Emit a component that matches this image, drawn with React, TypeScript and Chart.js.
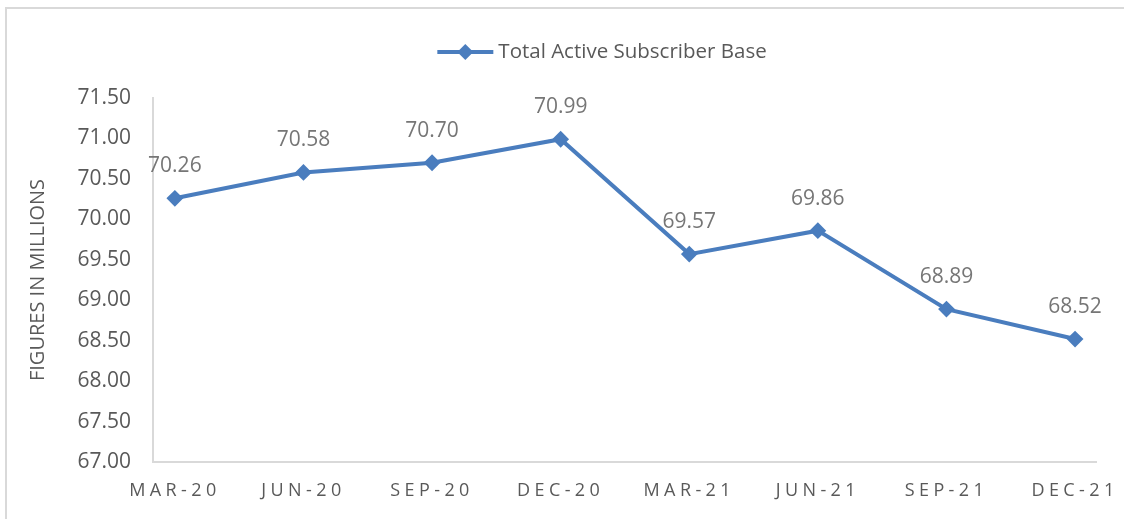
import React, { useEffect, useRef } from "react";
import { Chart, registerables } from "chart.js";

Chart.register(...registerables);

const categories = ["MAR-20", "JUN-20", "SEP-20", "DEC-20", "MAR-21", "JUN-21", "SEP-21", "DEC-21"];
const subscriberBase = [70.26, 70.58, 70.7, 70.99, 69.57, 69.86, 68.89, 68.52];
const seriesLabel = "Total Active Subscriber Base";
const yAxisTitle = "FIGURES IN MILLIONS";
const yMin = 67;
const yMax = 71.5;
const yStep = 0.5;

const FONT = "'Open Sans', 'Noto Sans', sans-serif";
const LINE_COLOR = "#4a7dbe";
const TICK_COLOR = "#595959";
const LABEL_COLOR = "#767676";
const AXIS_COLOR = "#d9d9d9";

const W = 1124;
const H = 519;

const labelsPlugin = {
  id: "customLabels",
  afterDatasetsDraw(chart: any) {
    const ctx = chart.ctx;
    const meta = chart.getDatasetMeta(0);
    const ds = chart.data.datasets[0];
    ctx.save();
    ctx.font = `21px ${FONT}`;
    ctx.fillStyle = LABEL_COLOR;
    ctx.textAlign = "center";
    ctx.textBaseline = "middle";
    meta.data.forEach((pt: any, i: number) => {
      const v = ds.data[i].y;
      ctx.fillText(v.toFixed(2), pt.x, pt.y - 32);
    });
    ctx.restore();
    // letter spacing for the x-axis labels, drawn on the top layer
    ctx.letterSpacing = "4.4px";
  },
  afterDraw(chart: any) {
    const ctx = chart.ctx;
    ctx.letterSpacing = "0px";
    // legend
    ctx.save();
    const text = chart.data.datasets[0].label;
    ctx.font = `20.5px ${FONT}`;
    const tw = ctx.measureText(text).width;
    const markerW = 56;
    const gap = 5;
    const total = markerW + gap + tw;
    const cx = 602;
    const cy = 52;
    const x0 = cx - total / 2;
    ctx.strokeStyle = LINE_COLOR;
    ctx.lineWidth = 4;
    ctx.beginPath();
    ctx.moveTo(x0, cy);
    ctx.lineTo(x0 + markerW, cy);
    ctx.stroke();
    ctx.fillStyle = LINE_COLOR;
    ctx.beginPath();
    const mx = x0 + markerW / 2;
    const r = 8;
    ctx.moveTo(mx, cy - r);
    ctx.lineTo(mx + r, cy);
    ctx.lineTo(mx, cy + r);
    ctx.lineTo(mx - r, cy);
    ctx.closePath();
    ctx.fill();
    ctx.fillStyle = TICK_COLOR;
    ctx.textAlign = "left";
    ctx.textBaseline = "middle";
    ctx.fillText(text, x0 + markerW + gap, cy);
    ctx.restore();
  },
};

export default function App() {
  const ref = useRef<HTMLCanvasElement>(null);

  useEffect(() => {
    if (!ref.current) return;
    const chart = new Chart(ref.current, {
      type: "line",
      data: {
        datasets: [
          {
            label: seriesLabel,
            data: subscriberBase.map((v, i) => ({ x: i, y: v })),
            borderColor: LINE_COLOR,
            backgroundColor: LINE_COLOR,
            borderWidth: 4,
            pointStyle: "rectRot",
            pointRadius: 7,
            pointBorderWidth: 2,
            pointBackgroundColor: LINE_COLOR,
            pointBorderColor: LINE_COLOR,
            tension: 0,
            fill: false,
          },
        ],
      },
      options: {
        animation: false,
        responsive: false,
        maintainAspectRatio: false,
        layout: { padding: { left: 26, right: 24, top: 98, bottom: 0 } },
        plugins: {
          legend: { display: false },
          tooltip: { enabled: false },
        },
        scales: {
          x: {
            type: "linear",
            min: -0.17,
            max: 7.17,
            afterBuildTicks: (scale: any) => {
              scale.ticks = categories.map((_, i) => ({ value: i }));
            },
            afterFit: (scale: any) => {
              scale.height = H - 462;
            },
            grid: { display: false, drawTicks: false },
            border: { display: true, color: AXIS_COLOR, width: 2 },
            ticks: {
              z: 1,
              color: TICK_COLOR,
              font: { family: FONT, size: 18 },
              padding: 18,
              maxRotation: 0,
              autoSkip: false,
              callback: (v: any) => categories[Math.round(Number(v))] ?? "",
            },
          },
          y: {
            min: yMin,
            max: yMax,
            afterFit: (scale: any) => {
              scale.width = 153 - 26;
            },
            grid: { display: false, drawTicks: false },
            border: { display: true, color: AXIS_COLOR, width: 2 },
            ticks: {
              stepSize: yStep,
              color: TICK_COLOR,
              font: { family: FONT, size: 21 },
              padding: 22,
              callback: (v: any) => Number(v).toFixed(2),
            },
            title: {
              display: true,
              text: yAxisTitle,
              color: TICK_COLOR,
              font: { family: FONT, size: 20 },
              padding: 0,
            },
          },
        },
      },
      plugins: [labelsPlugin],
    });
    return () => chart.destroy();
  }, []);

  return (
    <div style={{ position: "absolute", left: 0, top: 0, width: W, height: H, overflow: "hidden", background: "#fff" }}>
      <div
        style={{
          position: "absolute",
          left: 5,
          top: 7,
          width: W + 20,
          height: H + 20,
          border: `2px solid ${AXIS_COLOR}`,
          boxSizing: "border-box",
        }}
      />
      <canvas ref={ref} width={W} height={H} style={{ position: "absolute", left: 0, top: 0, width: W, height: H }} />
    </div>
  );
}
